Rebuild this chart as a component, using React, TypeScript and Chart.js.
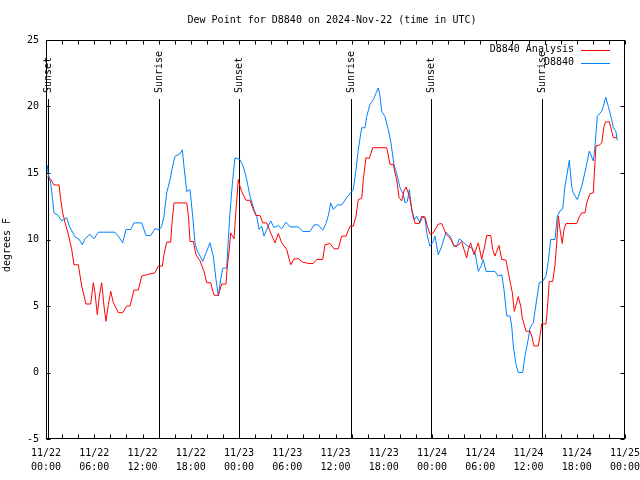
import React, { useEffect, useRef } from 'react';
import { Chart, registerables } from 'chart.js';

Chart.register(...registerables);

// ---- Data (hours since 2024-11-22 00:00 UTC, dew point in °F) ----
const analysisHours = [
  0.16, 0.62, 0.99, 1.62, 1.83, 2.08, 2.36, 2.77, 3.2, 3.48, 4.02, 4.44, 4.97, 5.56, 5.88, 6.09, 6.38, 6.63, 6.93,
  7.21, 7.46, 7.75, 8.05, 8.37, 8.99, 9.54, 10.04, 10.45, 10.94, 11.48, 11.9, 12.52, 13.55, 13.96, 14.46, 14.67,
  15.01, 15.51, 15.63, 15.92, 17.5, 17.72, 17.91, 18.32, 18.65, 19.15, 19.65, 19.98, 20.48, 20.8, 20.93, 21.43,
  21.85, 22.38, 22.55, 22.79, 22.97, 23.38, 23.63, 23.91, 24.12, 24.34, 24.87, 25.37, 25.78, 26.11, 26.61, 26.95,
  27.44, 27.94, 28.48, 28.89, 29.31, 29.93, 30.43, 30.84, 31.37, 31.92, 32.62, 33.24, 33.66, 34.41, 34.69, 35.32,
  35.81, 36.35, 36.77, 37.31, 37.8, 38.21, 38.55, 38.83, 39.26, 39.46, 39.79, 40.2, 40.63, 42.37, 42.78, 43.19,
  43.4, 43.61, 43.9, 44.23, 44.52, 44.77, 45.05, 45.26, 45.6, 45.89, 46.42, 46.72, 47.13, 47.42, 47.75, 48.16,
  48.78, 49.21, 49.74, 50.32, 50.74, 51.15, 51.69, 51.98, 52.31, 52.51, 52.81, 53.22, 53.76, 54.18, 54.59, 54.8,
  55.3, 55.55, 55.83, 56.04, 56.33, 56.67, 57.2, 57.49, 57.79, 57.99, 58.23, 58.53, 58.73, 59.03, 59.23, 59.69,
  60.19, 60.4, 60.68, 61.22, 61.43, 61.64, 62.17, 62.34, 62.58, 63.01, 63.3, 63.51, 63.71, 63.92, 64.2, 64.41,
  64.66, 65.99, 66.32, 66.62, 67.03, 67.24, 67.65, 68.06, 68.18, 68.39, 68.8, 69.1, 69.39, 69.6, 70.05, 70.35,
  70.55, 70.97,
];
const analysisValues = [
  14.7, 14.5, 14.1, 14.1, 13.0, 12.0, 11.3, 10.4, 9.25, 8.1, 8.1, 6.5, 5.15, 5.15, 6.75, 6.0, 4.35, 5.75, 6.75,
  5.0, 3.85, 5.1, 6.1, 5.25, 4.5, 4.5, 5.0, 5.0, 6.2, 6.2, 7.25, 7.35, 7.5, 8.0, 8.0, 8.85,
  9.8, 9.8, 11.0, 12.75, 12.75, 11.75, 9.85, 9.85, 8.85, 8.4, 7.6, 6.75, 6.75, 6.0, 5.8, 5.8,
  6.65, 6.65, 8.0, 9.25, 10.5, 10.05, 12.25, 14.5, 14.0, 13.6, 12.95, 12.95, 12.25, 11.8, 11.8, 11.25,
  11.25, 10.5, 9.75, 10.45, 9.75, 9.25, 8.1, 8.55, 8.55, 8.3, 8.2, 8.2, 8.5, 8.5, 9.6, 9.7,
  9.3, 9.3, 10.25, 10.25, 11.0, 11.0, 11.75, 13.0, 13.1, 14.5, 16.15, 16.1, 16.9, 16.9, 15.65, 15.65,
  15.0, 14.5, 13.15, 12.9, 13.65, 13.95, 13.5, 13.0, 11.9, 11.2, 11.2, 11.75, 11.7, 11.0, 10.4, 10.5,
  11.15, 11.2, 10.4, 10.05, 9.5, 9.5, 9.85, 9.25, 8.6, 9.25, 9.75, 8.85, 9.75, 8.5, 9.6, 10.3,
  10.3, 9.25, 8.75, 9.1, 9.55, 8.5, 8.45, 7.5, 6.6, 6.0, 4.6, 5.25, 5.7, 5.0, 4.1, 3.1,
  3.1, 2.75, 2.0, 2.0, 2.75, 3.65, 3.65, 4.75, 6.85, 6.85, 8.1, 9.75, 11.75, 10.75, 9.7, 10.75,
  11.2, 11.2, 11.7, 12.0, 12.0, 12.75, 13.45, 13.5, 14.9, 17.05, 17.1, 17.25, 18.5, 18.85, 18.85, 18.15,
  17.65, 17.65,
];

const observedHours = [
  0.16, 0.25, 0.58, 0.83, 0.99, 1.53, 1.95, 2.57, 2.9, 3.61, 4.14, 4.51, 4.85, 5.47, 5.97, 6.5, 8.58, 8.99, 9.54,
  9.95, 10.53, 10.94, 11.9, 12.43, 13.02, 13.55, 14.09, 14.39, 14.67, 15.01, 15.42, 15.83, 16.04, 16.66, 16.95,
  17.16, 17.5, 17.91, 18.24, 18.53, 18.74, 19.49, 20.39, 20.8, 21.14, 21.43, 21.72, 21.97, 22.47, 22.67, 22.88,
  23.22, 23.5, 24.12, 24.53, 24.96, 25.37, 25.87, 26.2, 26.49, 26.82, 27.11, 27.44, 27.94, 28.35, 28.89, 29.31,
  29.84, 30.34, 31.37, 31.92, 32.83, 33.33, 33.86, 34.41, 34.82, 35.15, 35.4, 35.73, 36.22, 36.77, 37.39, 37.89,
  38.21, 38.55, 38.83, 39.26, 39.67, 39.88, 40.29, 40.7, 41.04, 41.32, 41.53, 41.74, 42.15, 42.57, 42.86, 43.27,
  43.69, 44.02, 44.43, 44.64, 44.93, 45.18, 45.48, 45.8, 46.1, 46.51, 46.84, 47.13, 47.42, 47.75, 48.16, 48.37,
  48.78, 49.21, 49.74, 50.24, 50.74, 51.15, 51.4, 51.82, 52.31, 52.94, 53.35, 53.76, 54.18, 54.38, 54.71, 55.83,
  56.24, 56.67, 56.95, 57.29, 57.7, 57.91, 58.11, 58.44, 58.73, 59.28, 59.56, 59.97, 60.19, 60.6, 61.02, 61.34,
  61.76, 62.17, 62.46, 62.76, 63.3, 63.58, 63.92, 64.25, 64.54, 64.82, 65.07, 65.37, 65.57, 66.07, 66.62, 67.15,
  67.56, 67.86, 68.06, 68.27, 68.55, 69.1, 69.3, 69.6, 69.93, 70.35, 70.55, 70.85, 71.04,
];
const observedValues = [
  15.6, 15.0, 14.25, 13.0, 12.0, 11.8, 11.4, 11.65, 11.0, 10.2, 10.0, 9.6, 10.05, 10.4, 10.05, 10.55, 10.55, 10.25, 9.75,
  10.75, 10.75, 11.25, 11.25, 10.3, 10.3, 10.8, 10.75, 11.0, 11.75, 13.5, 14.5, 15.75, 16.25, 16.45, 16.75,
  15.5, 13.6, 13.75, 11.75, 9.75, 9.25, 8.35, 9.75, 8.75, 7.0, 5.75, 7.0, 7.85, 7.85, 10.0, 12.0,
  14.5, 16.15, 16.0, 15.5, 14.5, 13.25, 12.25, 11.75, 10.75, 11.0, 10.25, 10.75, 11.4, 10.9, 11.05, 10.8,
  11.3, 10.95, 10.95, 10.6, 10.6, 11.1, 11.1, 10.7, 11.2, 11.9, 12.75, 12.25, 12.6, 12.6, 13.15, 13.5,
  13.75, 15.25, 16.75, 18.4, 18.4, 19.25, 20.15, 20.5, 21.0, 21.4, 20.8, 19.65, 19.25, 18.25, 17.4, 15.65,
  14.75, 13.9, 13.4, 12.75, 12.85, 13.75, 12.25, 11.5, 11.75, 11.25, 11.75, 11.5, 10.25, 9.5, 9.85, 10.25,
  8.85, 9.5, 10.55, 10.25, 9.5, 9.6, 10.05, 9.85, 9.55, 9.35, 9.0, 7.6, 8.1, 8.5, 7.6, 7.6,
  7.25, 7.35, 6.25, 4.25, 4.25, 3.5, 2.0, 0.6, 0.0, 0.0, 1.25, 2.5, 3.35, 3.75, 5.5, 6.75,
  6.85, 7.25, 8.35, 10.0, 10.0, 11.75, 12.15, 12.3, 14.0, 15.0, 15.95, 14.0, 13.5, 13.0, 14.0, 15.4,
  16.65, 16.2, 15.9, 17.0, 19.25, 19.65, 20.0, 20.7, 20.0, 19.0, 18.4, 18.15, 17.45,
];

const seriesNames = ['D8840 Analysis', 'D8840'];
const seriesColors = ['#ff0000', '#0080ff'];

const xTickHours = [0, 6, 12, 18, 24, 30, 36, 42, 48, 54, 60, 66, 72];
const xTickLabels = [
  ['11/22', '00:00'], ['11/22', '06:00'], ['11/22', '12:00'], ['11/22', '18:00'],
  ['11/23', '00:00'], ['11/23', '06:00'], ['11/23', '12:00'], ['11/23', '18:00'],
  ['11/24', '00:00'], ['11/24', '06:00'], ['11/24', '12:00'], ['11/24', '18:00'],
  ['11/25', '00:00'],
];
const xMinorStep = 2;
const yMin = -5;
const yMax = 25;
const yStep = 5;

const eventHours = [0.25, 14.09, 24.0, 37.93, 47.87, 61.72];
const eventLabels = ['Sunset', 'Sunrise', 'Sunset', 'Sunrise', 'Sunset', 'Sunrise'];

const titleText = 'Dew Point for D8840 on 2024-Nov-22 (time in UTC)';
const yAxisTitle = 'degrees F';

const FONT = '10px "DejaVu Sans Mono", "Liberation Mono", monospace';

const gnuplotPlugin = {
  id: 'gnuplotDecor',
  beforeDatasetsDraw(chart: any) {
    const { ctx, chartArea, scales } = chart;
    const xs = scales.x;
    ctx.save();
    ctx.strokeStyle = '#000';
    ctx.lineWidth = 1;
    ctx.fillStyle = '#000';
    ctx.font = FONT;
    eventHours.forEach((h, i) => {
      const px = Math.round(xs.getPixelForValue(h)) + 0.5;
      ctx.beginPath();
      ctx.moveTo(px, chartArea.top + 59);
      ctx.lineTo(px, chartArea.bottom);
      ctx.stroke();
      ctx.save();
      ctx.translate(px, chartArea.top + 53);
      ctx.rotate(-Math.PI / 2);
      ctx.textAlign = 'left';
      ctx.textBaseline = 'middle';
      ctx.fillText(eventLabels[i], 0, 0);
      ctx.restore();
    });
    ctx.restore();
  },
  afterDraw(chart: any) {
    const { ctx, chartArea, scales } = chart;
    const xs = scales.x;
    const ys = scales.y;
    const L = chartArea.left + 0.5;
    const R = chartArea.right - 0.5;
    const T = chartArea.top + 0.5;
    const B = chartArea.bottom - 0.5;
    ctx.save();
    ctx.strokeStyle = '#000';
    ctx.lineWidth = 1;
    ctx.strokeRect(L, T, R - L, B - T);
    const tl = 4;
    ctx.beginPath();
    for (let h = xs.min; h <= xs.max; h += xMinorStep) {
      const px = Math.round(xs.getPixelForValue(h)) + 0.5;
      ctx.moveTo(px, B);
      ctx.lineTo(px, B - tl);
      ctx.moveTo(px, T);
      ctx.lineTo(px, T + tl);
    }
    for (let v = yMin; v <= yMax; v += yStep) {
      const py = Math.round(ys.getPixelForValue(v)) + 0.5;
      ctx.moveTo(L, py);
      ctx.lineTo(L + tl, py);
      ctx.moveTo(R, py);
      ctx.lineTo(R - tl, py);
    }
    ctx.stroke();

    ctx.fillStyle = '#000';
    ctx.font = FONT;
    ctx.textBaseline = 'middle';
    ctx.textAlign = 'center';
    ctx.fillText(titleText, 332, 20);

    ctx.save();
    ctx.translate(7, 245);
    ctx.rotate(-Math.PI / 2);
    ctx.textAlign = 'center';
    ctx.fillText(yAxisTitle, 0, 0);
    ctx.restore();

    // legend
    seriesNames.forEach((name, i) => {
      const y = 49.5 + i * 13;
      ctx.textAlign = 'right';
      ctx.fillStyle = '#000';
      ctx.fillText(name, 574, y);
      ctx.strokeStyle = seriesColors[i];
      ctx.beginPath();
      ctx.moveTo(581, Math.round(y) + 0.5);
      ctx.lineTo(610, Math.round(y) + 0.5);
      ctx.stroke();
    });
    ctx.restore();
  },
};

export default function App() {
  const ref = useRef<HTMLCanvasElement>(null);
  useEffect(() => {
    document.body.style.margin = '0';
    const canvas = ref.current;
    if (!canvas) return;
    const chart = new Chart(canvas, {
      type: 'line',
      data: {
        datasets: [
          {
            label: seriesNames[0],
            data: analysisHours.map((h, i) => ({ x: h, y: analysisValues[i] })),
            borderColor: seriesColors[0],
            borderWidth: 1,
            pointRadius: 0,
            tension: 0,
            fill: false,
          },
          {
            label: seriesNames[1],
            data: observedHours.map((h, i) => ({ x: h, y: observedValues[i] })),
            borderColor: seriesColors[1],
            borderWidth: 1,
            pointRadius: 0,
            tension: 0,
            fill: false,
          },
        ],
      },
      plugins: [gnuplotPlugin],
      options: {
        responsive: false,
        animation: false,
        devicePixelRatio: 1,
        layout: { padding: { top: 40, right: 15, left: 0, bottom: 0 } },
        plugins: {
          legend: { display: false },
          title: { display: false },
          tooltip: { enabled: false },
        },
        scales: {
          x: {
            type: 'linear',
            min: 0,
            max: 72,
            grid: { display: false, drawTicks: false },
            border: { display: false },
            afterFit: (s: any) => {
              s.height = 41;
              s.paddingLeft = 0;
              s.paddingRight = 0;
            },
            ticks: {
              stepSize: 6,
              autoSkip: false,
              maxRotation: 0,
              minRotation: 0,
              padding: 7,
              color: '#000',
              font: { family: '"DejaVu Sans Mono", monospace', size: 10, lineHeight: 1.45 },
              callback: (v: any) => {
                const idx = xTickHours.indexOf(Number(v));
                return idx >= 0 ? xTickLabels[idx] : '';
              },
            },
          },
          y: {
            type: 'linear',
            min: yMin,
            max: yMax,
            grid: { display: false, drawTicks: false },
            border: { display: false },
            afterFit: (s: any) => {
              s.width = 46;
              s.paddingTop = 0;
              s.paddingBottom = 0;
            },
            ticks: {
              stepSize: yStep,
              padding: 7,
              color: '#000',
              font: { family: '"DejaVu Sans Mono", monospace', size: 10 },
            },
          },
        },
      },
    });
    return () => chart.destroy();
  }, []);
  return (
    <div style={{ width: 640, height: 480, background: '#fff' }}>
      <canvas ref={ref} width={640} height={480} />
    </div>
  );
}
